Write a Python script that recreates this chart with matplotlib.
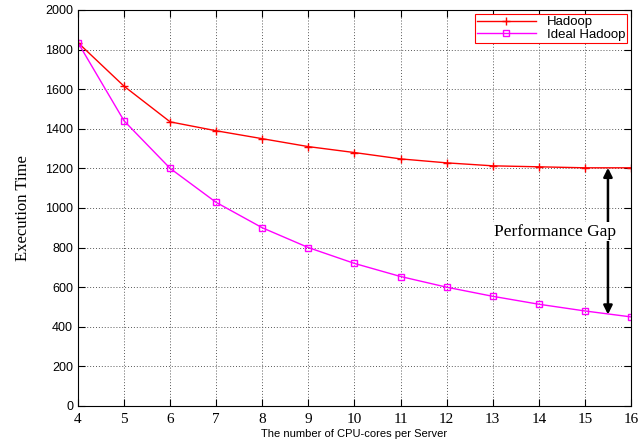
import matplotlib.pyplot as plt

cores = [4, 5, 6, 7, 8, 9, 10, 11, 12, 13, 14, 15, 16]
hadoop = [1835, 1615, 1435, 1390, 1350, 1310, 1280, 1248, 1228, 1213, 1208, 1203, 1203]
ideal = [1835, 1440, 1200, 1028, 900, 800, 720, 654, 600, 554, 514, 480, 450]

fig = plt.figure(figsize=(6.4, 4.46), dpi=100)
ax = fig.add_axes([78 / 640, 1 - 406 / 446, 553 / 640, 396 / 446])

ax.plot(cores, hadoop, color="red", marker="+", markersize=6, mew=1, lw=1, label="Hadoop")
ax.plot(cores, ideal, color="magenta", marker="s", markersize=5, mew=1, mfc="none", lw=1,
        label="Ideal Hadoop")

ax.set_xlim(4, 16)
ax.set_ylim(0, 2000)
ax.set_xticks(cores)
ax.set_yticks(range(0, 2001, 200))
ax.grid(True, color="0.35", linestyle=(0, (1, 2)), linewidth=0.7)
ax.tick_params(direction="in", top=True, right=True, length=5, width=0.8)
for lbl in ax.get_xticklabels():
    lbl.set_fontfamily("Liberation Serif")
    lbl.set_fontsize(11)
for lbl in ax.get_yticklabels():
    lbl.set_fontfamily("Liberation Sans")
    lbl.set_fontsize(9)
ax.tick_params(axis="x", pad=5)

ax.set_xlabel("The number of CPU-cores per Server", fontfamily="Liberation Sans", fontsize=8, labelpad=2)
ax.set_ylabel("Execution Time", fontfamily="Liberation Serif", fontsize=12, labelpad=10)

ax.annotate("", xy=(15.5, 462), xytext=(15.5, 1203),
            arrowprops=dict(arrowstyle="<|-|>", color="black", lw=1.8, mutation_scale=13,
                            shrinkA=0, shrinkB=0))
ax.text(14.35, 880, "Performance Gap", fontfamily="Liberation Serif", fontsize=12.5,
        ha="center", va="center", bbox=dict(facecolor="white", edgecolor="none", pad=1))

leg = ax.legend(loc="upper right", prop={"family": "Liberation Sans", "size": 9.5},
                fancybox=False, framealpha=1, borderaxespad=0.3, handlelength=4.5,
                borderpad=0.15, labelspacing=0.05, handletextpad=0.8)
leg.get_frame().set_edgecolor("red")
leg.get_frame().set_linewidth(0.8)

fig.savefig("out.png", dpi=100)
